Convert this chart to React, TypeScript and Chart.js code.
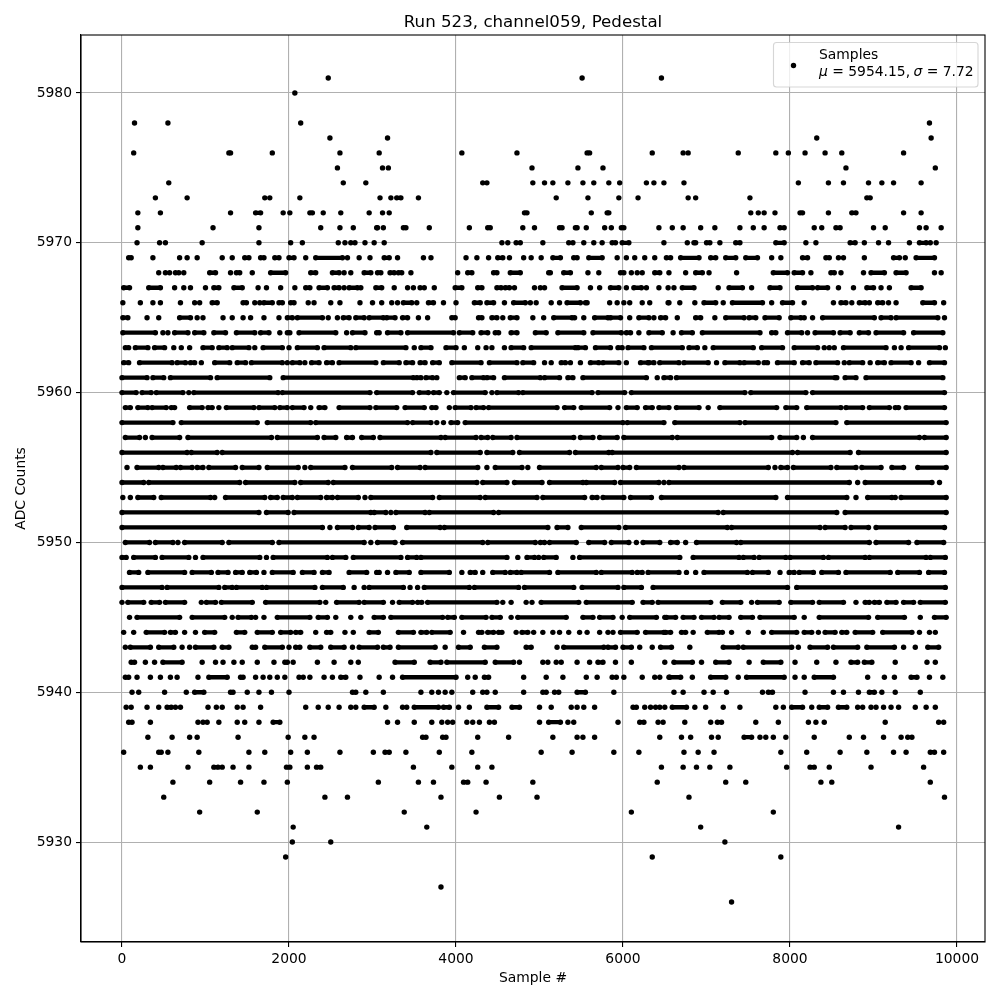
import React, { useEffect, useRef } from "react";
import { Chart, registerables } from "chart.js";

Chart.register(...registerables);

// Each entry is a sample position: a number is one isolated dot,
// a [start, end] pair is a stretch where the dots merge into a solid bar.
const level5981 = [2470, 5510, 6460];
const level5980 = [2070];
const level5978 = [150, 550, 2140, 9670];
const level5977 = [2490, 3180, 8320, 9690];
const level5976 = [140, [1280, 1300], 1800, 2610, 3080, 4070, 4730, [5570, 5600], 6350, 6720, 6780, 7380, 7830, 7980, 8180, 8420, 8620, 9360];
const level5975 = [2580, 3120, 3190, 4910, 5460, 5760, 8670, 9740];
const level5974 = [560, 2650, 2920, 4320, 4370, 4920, 5060, 5160, 5340, 5520, 5650, 5830, 5960, 6280, 6370, 6490, 6730, 8100, 8460, 8640, 8940, 9100, 9240, 9570];
const level5973 = [400, 780, 1710, 1770, 2130, 3090, 3220, [3290, 3340], 3550, 5200, 5580, 5950, 6180, 6780, 6870, 7520, [8920, 8960]];
const level5972 = [190, 460, 1300, [1600, 1660], 1930, 2010, [2250, 2280], 2410, 2620, 2960, 3120, 3200, [4820, 4850], 5620, [5810, 5830], 7530, 7620, 7690, 7820, [8120, 8150], 8460, [8740, 8790], 9360, 9570];
const level5971 = [190, 1090, 1640, 2380, 2610, 2770, 3060, 3050, 3130, [3370, 3400], 3680, 4160, [4380, 4410], 4800, 4940, [5240, 5270], [5430, 5450], 5560, 5780, 5860, [5980, 6010], 6430, 6590, 6720, 6930, 7100, 7400, 7560, 7690, [7880, 7930], 8290, 8380, [8550, 8600], 9000, 9140, 9550, 9630, 9810];
const level5970 = [180, 450, 520, 960, 1640, 2020, 2160, 2590, 2670, 2740, 2790, 2910, 3020, 3140, 4550, 4620, 4720, 4770, 5040, 5350, 5400, 5530, 5650, 5750, [5870, 5910], [5990, 6070], 6490, 6770, [6850, 6870], [7000, 7040], 7160, [7350, 7400], [7830, 7930], 8190, 8310, [8720, 8780], 8890, 9060, 9180, 9430, [9550, 9630], 9680, 9750];
const level5969 = [[80, 110], 370, 690, 780, 900, 1200, 1320, [1470, 1520], [1660, 1700], [1830, 1880], [2000, 2060], 2200, [2320, 2640], 2700, 2840, 2970, [3140, 3200], 3300, 3610, 3700, 4120, 4250, 4390, [4500, 4560], 4640, 4810, 4900, 5020, [5160, 5250], [5410, 5450], [5590, 5750], 5930, 6040, 6140, 6260, 6380, [6520, 6570], [6690, 6910], [7050, 7110], [7230, 7350], [7470, 7610], 7780, 7890, [8150, 8210], [8430, 8470], 8580, 8640, 8890, [9240, 9310], 9380, [9510, 9730]];
const level5968 = [440, 520, 570, 640, 680, 740, [1050, 1120], 1300, [1370, 1410], 1560, [1780, 1960], [2260, 2320], [2520, 2600], 2660, 2740, [2900, 2980], [3060, 3100], [3210, 3260], [3310, 3350], 3460, 4020, [4140, 4190], [4450, 4490], [4650, 4770], [5110, 5130], [5290, 5370], 5580, 5710, [5970, 6010], 6100, 6170, 6230, [6380, 6440], 6550, 6750, [6870, 6950], 7030, 7360, [7800, 7970], [8050, 8150], 8250, [8490, 8530], 8610, 8880, [8970, 9130], [9270, 9390], 9730, 9810];
const level5967 = [[20, 90], [320, 460], 630, 740, 820, 1000, [1100, 1160], [1340, 1440], 1630, 1730, 1900, 2070, [2200, 2250], [2360, 2460], [2540, 2600], 2660, [2720, 2820], 2860, [3040, 3110], 3260, 3420, 3490, 3570, 3620, 3740, [3990, 4070], [4260, 4310], [4490, 4540], [4590, 4640], 4700, 4940, 5010, 5060, [5270, 5450], 5610, 5720, [5850, 5950], 6040, [6130, 6220], 6280, 6430, 6540, 6610, [6710, 6850], 7140, [7270, 7430], 7540, [7760, 7880], [8090, 8270], [8330, 8450], 8580, 8760, [8920, 9000], 9090, 9190, [9450, 9570]];
const level5966 = [10, 220, 370, 460, 700, 870, 930, [1080, 1140], [1450, 1490], 1590, 1650, [1700, 1800], [1880, 1920], [2020, 2060], 2230, 2300, 2500, 2610, 2850, 3000, 3110, 3230, 3300, [3370, 3470], 3530, [3670, 3730], 3850, 4000, [4220, 4290], [4370, 4450], 4580, [4690, 4830], 4890, 4960, 5140, 5240, [5330, 5490], [5550, 5570], 5840, 5930, 6010, 6080, 6230, 6320, 6540, 6550, 6680, 6860, [6970, 7110], 7200, [7310, 7670], 7780, [7910, 8030], 8170, 8520, [8610, 8670], 8740, [8830, 8900], 8950, [9050, 9110], 9180, 9270, [9590, 9730], 9840];
const level5965 = [[10, 70], 300, 440, [690, 820], 900, 970, 1210, 1320, 1450, 1540, 1700, 1880, [1980, 2040], [2100, 2400], 2470, 2580, [2650, 2720], [2800, 2900], [2960, 3130], [3170, 3270], [3360, 3420], 3550, 3660, [3950, 3990], [4270, 4310], [4430, 4490], 4560, [4650, 4730], 4920, 5050, [5170, 5390], 5420, 5530, [5660, 5820], [5850, 5970], 6080, [6190, 6310], 6370, [6450, 6510], 6650, [6870, 6930], 7100, [7230, 7450], [7510, 7590], [7700, 7870], [8010, 8130], 8170, 8270, [8390, 9010], [9090, 9210], [9270, 9770], 9850];
const level5964 = [[10, 400], 490, 550, [630, 790], [870, 980], [1100, 1240], [1370, 1590], [1660, 1760], 1890, [1980, 2010], [2120, 2560], 2690, [2760, 2910], [3050, 3080], [3180, 3340], [3420, 3970], [4040, 4200], [4300, 4380], [4470, 4510], [4660, 4730], [4950, 5080], [5220, 5530], [5640, 5980], [6040, 6090], 6190, [6310, 6470], 6600, [6700, 6830], [6950, 7640], [7780, 7830], [7970, 8140], 8210, [8300, 8520], [8600, 8720], [8830, 8940], [9030, 9360], [9480, 9830]];
const level5963 = [[40, 80], [160, 310], [390, 510], 620, 710, 810, [970, 1080], [1160, 1260], [1320, 1520], 1590, [1690, 1920], 2000, [2100, 2340], [2420, 2740], [2800, 3400], 3500, [3580, 3700], [3880, 4000], 4100, 4260, 4360, 4430, 4580, [4660, 4810], [4900, 5430], [5460, 5550], [5670, 5850], [5940, 5990], [6060, 6250], [6340, 6710], [6790, 6890], 6980, [7080, 7560], [7660, 7910], [8050, 8330], 8410, 8470, 8530, [8640, 9150], 9250, 9330, [9420, 9790], 9860];
const level5962 = [[20, 80], [210, 600], [660, 760], [820, 870], 950, [1110, 1290], [1380, 1480], [1550, 1920], 1980, [2040, 2130], 2190, [2270, 2360], [2450, 2520], [2600, 3040], [3130, 3320], [3400, 3480], [3570, 3630], [3720, 3800], [3950, 4300], [4400, 4730], [4800, 4930], 5060, 5140, [5260, 5310], 5370, 5490, [5610, 5710], [5760, 5950], 6040, [6210, 6300], [6310, 6370], [6440, 6670], [6730, 7020], 7120, [7220, 7400], [7450, 7620], [7690, 7730], [7850, 8050], [8150, 8230], [8310, 8570], 8650, [8710, 8870], 8960, [9050, 9130], [9210, 9450], 9540, [9670, 9850]];
const level5961 = [[0, 300], [370, 500], [580, 1060], [1140, 1770], [1930, 3490], [3530, 3580], [3640, 3720], 3770, [4040, 4110], [4190, 4330], [4370, 4450], [4580, 5010], [5060, 5240], [5340, 5400], [5520, 6280], 6410, [6490, 6570], [6640, 8540], 8560, [8660, 8790], [8910, 9830]];
const level5960 = [[0, 170], [240, 350], [410, 730], 800, [860, 1870], [1920, 2970], [3050, 3480], [3560, 3670], [3730, 3800], 3890, [3970, 4350], 4430, [4490, 4750], [4800, 5630], [5700, 6020], [6100, 7460], [7530, 8190], [8270, 9850]];
const level5959 = [[40, 100], [190, 310], [360, 530], [590, 630], [810, 960], [1030, 1080], 1160, [1250, 1580], [1640, 1830], [1890, 1980], [2040, 2180], 2260, [2360, 2430], [2600, 2970], [3040, 3290], [3390, 3620], [3710, 3760], 3920, [3990, 4180], [4240, 4330], [4390, 5210], [5300, 5410], [5500, 5840], 5940, [6040, 6170], [6270, 6350], [6430, 6550], [6640, 6910], 7020, [7160, 7840], [7950, 8080], [8200, 8610], [8670, 8870], [8950, 9190], [9260, 9300], [9390, 9850]];
const level5958 = [[0, 610], [710, 1620], [1740, 2260], [2320, 3420], [3480, 3700], 3770, 3850, [3940, 4020], [4110, 6000], [6050, 6490], [6620, 7400], [7460, 8550], [8680, 9870]];
const level5957 = [[40, 210], 280, [360, 690], [790, 1790], [1860, 2340], [2420, 2560], [2690, 2760], [2870, 3010], [3090, 3820], [3870, 4240], [4300, 4380], [4440, 4660], [4730, 5410], [5490, 5640], [5720, 5930], [6010, 6590], [6650, 7780], [7880, 8080], 8160, [8270, 9550], [9610, 9870]];
const level5956 = [[0, 780], [830, 1140], [1200, 3700], [3770, 4290], [4370, 4680], [4760, 5360], [5430, 5830], [5870, 8030], [8090, 8720], [8820, 9870]];
const level5955 = [60, [180, 440], [490, 650], [700, 840], [900, 970], [1040, 1360], [1440, 1640], [1740, 2110], 2190, [2260, 2670], [2760, 3230], [3300, 3570], [3630, 4260], 4370, [4470, 4790], 4860, [5000, 5680], [5740, 5940], [6000, 6080], [6160, 6670], [6730, 7740], 7820, [7890, 7970], [8040, 8490], [8560, 8790], [8860, 9090], [9220, 9360], [9530, 9870]];
const level5954 = [[0, 260], [320, 1410], [1480, 2070], [2140, 2470], [2530, 4250], [4320, 4610], [4700, 5030], [5120, 5520], [5560, 5900], [5970, 6430], 6490, [6550, 8710], 8810, [8900, 9700], 9790];
const level5953 = [10, 100, [190, 380], [470, 1060], 1110, [1240, 1710], [1780, 1860], [1930, 2040], [2100, 2380], [2450, 2520], [2580, 2830], 2910, [2980, 3720], [3800, 4290], [4350, 4970], [5040, 5540], [5630, 5690], [5760, 6010], [6090, 6340], [6460, 7830], [7970, 8680], 8790, [8930, 9220], 9260, [9330, 9870]];
const level5952 = [[0, 1640], [1730, 1990], [2060, 2980], [3020, 3160], 3220, [3280, 3630], [3680, 4450], [4510, 7140], [7200, 8560], [8660, 9870]];
const level5951 = [[0, 2400], 2490, [2580, 2760], [2830, 2960], [3030, 3250], [3410, 3810], [3860, 5100], [5210, 5340], [5500, 5950], [6030, 7250], [7300, 8360], [8420, 8660], [8730, 8940], [9030, 9850]];
const level5950 = [[40, 330], [400, 610], 670, [750, 1200], [1280, 1800], [1880, 2900], 2980, [3060, 3270], [3360, 4320], [4380, 4950], [5010, 5060], [5120, 5440], [5590, 5780], [5860, 6070], 6160, [6240, 6440], [6570, 6650], 6750, [6880, 7360], [7410, 8950], [9030, 9420], [9520, 9840]];
const level5949 = [[0, 50], [140, 400], [480, 800], 880, [970, 1650], 1730, [1810, 2460], [2520, 2680], [2770, 3340], [3420, 3530], [3580, 4610], 4740, [4850, 4940], 4990, [5050, 5200], 5400, [5480, 6680], [6840, 7390], [7440, 7570], [7630, 7950], [8000, 8400], [8460, 8900], [8950, 9630], [9680, 9860]];
const level5948 = [[90, 200], [310, 750], [840, 1070], [1150, 1270], [1360, 1440], [1530, 1610], 1700, [1800, 2050], [2160, 2300], [2400, 2480], [2720, 2930], [3050, 3080], 3180, [3280, 3440], [3580, 3920], 4070, [4170, 4230], 4320, [4440, 4590], [4650, 4730], [4780, 5120], [5220, 5680], [5740, 6110], [6170, 6230], [6300, 6670], 6760, 6870, [6970, 7490], [7550, 7740], 7880, [7990, 8050], [8110, 8280], [8380, 8580], [8670, 9200], [9290, 9550], [9660, 9850]];
const level5947 = [[0, 480], [540, 1160], [1230, 1320], [1370, 1680], [1730, 2310], [2400, 2650], 2780, 2900, [2960, 3370], 3450, 3540, [3620, 4160], [4220, 4750], [4820, 5410], [5510, 5940], [6010, 6220], [6360, 7970], [8080, 9860]];
const level5946 = [0, [70, 260], [350, 450], [520, 750], 950, [1010, 1120], [1190, 1560], [1720, 2370], 2440, [2570, 2840], [2900, 3130], 3240, [3320, 3480], [3540, 3590], [3660, 4490], 4560, 4660, 4840, 4910, [5020, 5470], [5560, 6110], [6240, 6350], [6420, 7050], [7190, 7410], 7540, [7610, 7870], [8010, 8270], [8350, 8640], 8790, [8900, 8950], [9010, 9070], [9160, 9270], [9360, 9480], [9560, 9860]];
const level5945 = [90, [180, 690], [840, 1230], 1320, [1390, 1550], 1600, 1700, [1860, 2250], [2350, 2460], 2560, 2740, 2860, [3020, 3130], [3220, 3840], [3900, 3980], [4070, 4360], [4430, 4530], 4660, [4740, 5320], [5520, 5640], [5720, 5880], 5990, [6080, 6400], 6520, [6500, 6630], [6720, 6850], [6940, 7090], [7150, 7270], [7410, 7550], [7640, 8050], 8170, [8350, 8940], [9050, 9370], 9560, [9730, 9870]];
const level5944 = [20, 140, [290, 510], [580, 640], 750, 880, [990, 1110], [1370, 1470], [1620, 1800], [1900, 2020], [2080, 2140], 2320, [2450, 2500], 2670, 2770, [2960, 3070], [3310, 3490], [3580, 3650], [3710, 3930], 4090, [4270, 4310], [4380, 4450], [4510, 4550], 4720, [4790, 4860], 4930, 5040, 5160, 5240, 5350, 5480, 5570, 5720, 5820, 5880, [5970, 6170], [6270, 6510], [6490, 6570], [6700, 6750], 6840, [7010, 7150], 7190, 7300, 7500, 7680, [7780, 8080], [8170, 8260], 8340, [8420, 8540], [8620, 8680], [8780, 8990], [9110, 9460], 9550, 9670, 9740];
const level5943 = [40, [100, 340], [440, 620], 720, 810, [880, 1100], [1200, 1280], [1560, 1600], [1710, 1920], 2000, [2080, 2130], [2250, 2380], [2500, 2660], 2760, [2840, 3060], [3130, 3210], [3310, 3750], 3870, [4030, 4170], [4340, 4490], [4840, 4900], 5210, [5290, 5770], [5820, 5910], [6000, 6100], 6200, 6350, [6450, 6580], 6800, [7200, 7380], [7440, 8020], 8100, [8240, 8450], [8520, 8810], [8920, 9250], 9360, 9500, [9650, 9780]];
const level5942 = [[110, 150], 280, 390, [490, 720], 960, 1120, 1210, 1340, 1440, 1620, 1820, [1950, 1980], 2050, 2340, 2540, 2740, 2830, [3270, 3500], [3690, 3820], [3890, 4350], [4470, 4690], 4760, 5040, 5100, 5200, 5260, 5450, 5600, [5700, 5760], 5910, 6100, 6500, [6610, 6830], 6940, [7110, 7270], 7510, [7680, 7890], 8060, 8320, 8550, [8730, 8810], [8890, 8980], 9260, 9640, 9740];
const level5941 = [[40, 80], 180, 340, 460, 580, 660, 910, [1040, 1260], [1420, 1450], 1600, 1690, 1770, 1860, 1950, 2120, 2170, 2250, 2420, 2520, [2620, 2680], 2850, 3080, 3240, [3360, 4000], 4140, 4230, [4340, 4390], 4810, 5080, 5280, 5560, 5690, 5870, 5920, 6010, 6230, 6380, 6440, 6550, [6560, 6690], 6830, [7050, 7230], 7380, [7480, 7930], 8060, 8170, [8290, 8520], 8930, 9130, 9250, [9450, 9520], 9670, 9830];
const level5940 = [120, 200, 510, 770, [870, 980], [1300, 1330], 1500, 1640, 1790, 2000, [2760, 2800], 2920, 3130, 3580, 3710, 3790, 3870, 3950, 4200, 4320, 4370, 4470, 4810, 5040, 5080, 5180, 5230, [5450, 5550], 5890, 6610, 6720, 6970, 7080, 7240, 7670, [7740, 7790], 8180, 8520, 8640, 8820, [8950, 9010], 9100, 9260, 9560];
const level5939 = [50, 110, 300, 440, [540, 590], 640, 700, 1030, 1130, 1200, 1380, 1450, 1660, 2200, 2350, 2470, 2600, 2740, 2800, [2900, 3020], 3160, 3360, 3410, [3500, 3790], [3850, 3920], 4030, 4160, [4370, 4510], [4670, 4760], 5000, 5140, 5380, 5450, 5530, 5660, [6120, 6160], 6260, 6330, 6390, 6440, 6500, [6590, 6760], 6860, 6990, 7200, 7400, 7830, 7920, [8020, 8150], 8260, [8350, 8450], [8580, 8680], 8810, 8870, 8970, 9030, 9120, 9210, 9300, 9500, 9630, 9740];
const level5938 = [[80, 120], 340, 910, 970, 1020, 1160, 1380, 1470, 1640, [1810, 1890], 3180, 3300, 3500, 3710, 3830, 3900, 3960, 4130, 4200, 4280, 4400, 4460, 5000, [5110, 5250], 5340, 5410, 5940, [6200, 6250], 6420, 6480, 6740, 7050, [7130, 7180], 7590, 7860, 8220, 8310, 8410, 9140, 9780, 9840];
const level5937 = [310, 600, 810, 900, 1390, 1990, 2190, 2300, [3600, 3640], [3840, 3880], 4260, 4630, 5160, 5450, 5520, 5660, 6440, 6700, 6810, 7060, 7140, [7450, 7540], 7640, 7710, 7800, 7950, 8290, 8710, 8880, 9120, 9330, 9410, 9460];
const level5936 = [20, [440, 470], 550, 920, 1520, 1710, 2020, 2220, 2610, 3010, [3150, 3200], 3400, 3800, 4190, 5020, 5390, 5890, 6190, 6730, 6900, 7090, 7890, 8200, 8600, 8920, 9240, 9390, [9680, 9730], 9840];
const level5935 = [220, 340, 790, [1100, 1150], 1200, 1330, 1520, [1970, 2010], 2220, [2330, 2380], 3490, 3950, 4260, 4430, 6460, 6720, 6880, 7040, 7280, 7960, [8240, 8290], 8470, 8970, 9600];
const level5934 = [610, 1050, 1420, 1700, 1980, 3070, 3550, 3730, [4090, 4140], 4360, 4920, 6410, 7230, 7470, 8370, 8500, 9680];
const level5933 = [500, 2430, 2700, 3820, 4520, 4970, 6790, 9850];
const level5932 = [930, 1620, 3380, 4240, 6100, 7800];
const level5931 = [2050, 3650, 6930, 9300];
const level5930 = [2040, 2500, 7220];
const level5929 = [1960, 6350, 7890];
const level5927 = [3820];
const level5926 = [7300];

const levelValues = [5981, 5980, 5978, 5977, 5976, 5975, 5974, 5973, 5972, 5971, 5970, 5969, 5968, 5967, 5966, 5965, 5964, 5963, 5962, 5961, 5960, 5959, 5958, 5957, 5956, 5955, 5954, 5953, 5952, 5951, 5950, 5949, 5948, 5947, 5946, 5945, 5944, 5943, 5942, 5941, 5940, 5939, 5938, 5937, 5936, 5935, 5934, 5933, 5932, 5931, 5930, 5929, 5927, 5926];
const levelRows: (number | number[])[][] = [level5981, level5980, level5978, level5977, level5976, level5975, level5974, level5973, level5972, level5971, level5970, level5969, level5968, level5967, level5966, level5965, level5964, level5963, level5962, level5961, level5960, level5959, level5958, level5957, level5956, level5955, level5954, level5953, level5952, level5951, level5950, level5949, level5948, level5947, level5946, level5945, level5944, level5943, level5942, level5941, level5940, level5939, level5938, level5937, level5936, level5935, level5934, level5933, level5932, level5931, level5930, level5929, level5927, level5926];

const xTicks = [0, 2000, 4000, 6000, 8000, 10000];
const yTicks = [5930, 5940, 5950, 5960, 5970, 5980];
const chartTitle = "Run 523, channel059, Pedestal";
const xTitle = "Sample #";
const yTitle = "ADC Counts";
const legendName = "Samples";
const legendMu = "5954.15";
const legendSigma = "7.72";

const FONT = '"DejaVu Sans"';

const frameAndLegend = {
  id: "frameAndLegend",
  afterDatasetsDraw(chart: any) {
    const { ctx, chartArea: a } = chart;
    ctx.save();
    ctx.strokeStyle = "#000";
    ctx.lineWidth = 1.1;
    ctx.strokeRect(a.left, a.top, a.right - a.left, a.bottom - a.top);

    const bx = 773.5, by = 42.5, bw = 204.5, bh = 44.5, r = 3;
    ctx.beginPath();
    ctx.roundRect(bx, by, bw, bh, r);
    ctx.fillStyle = "rgba(255,255,255,0.8)";
    ctx.fill();
    ctx.strokeStyle = "rgba(204,204,204,0.8)";
    ctx.lineWidth = 1.1;
    ctx.stroke();

    ctx.fillStyle = "#000";
    ctx.beginPath();
    ctx.arc(793.5, 65.5, 2.7, 0, Math.PI * 2);
    ctx.fill();

    ctx.textBaseline = "alphabetic";
    ctx.textAlign = "left";
    const upright = `13.89px ${FONT}`;
    const oblique = `oblique 13.89px ${FONT}`;
    ctx.font = upright;
    ctx.fillText(legendName, 819, 59);
    const parts: [string, string, number][] = [
      ["μ", oblique, 0],
      [` = ${legendMu}, `, upright, -1],
      ["σ", oblique, 0],
      [` = ${legendSigma}`, upright, -1],
    ];
    let x = 819;
    for (const [text, font, nudge] of parts) {
      ctx.font = font;
      ctx.fillText(text, x, 76);
      x += ctx.measureText(text).width + nudge;
    }
    ctx.restore();
  },
};

export default function App() {
  const ref = useRef<HTMLCanvasElement>(null);
  useEffect(() => {
    const datasets = levelRows.map((row, i) => {
      const y = levelValues[i];
      const data: any[] = [];
      for (const item of row) {
        if (Array.isArray(item)) {
          data.push({ x: item[0], y }, { x: item[1], y });
        } else {
          data.push({ x: item, y });
        }
        data.push({ x: null, y: null });
      }
      return {
        label: String(y),
        data,
        borderColor: "#000",
        backgroundColor: "#000",
        borderWidth: 4.3,
        borderCapStyle: "butt" as const,
        pointRadius: 2.7,
        pointBorderWidth: 0,
        pointBackgroundColor: "#000",
        spanGaps: false,
        tension: 0,
      };
    });
    const chart = new Chart(ref.current!, {
      type: "line",
      data: { datasets },
      plugins: [frameAndLegend],
      options: {
        animation: false,
        responsive: false,
        devicePixelRatio: 1,
        layout: { padding: { top: 0, right: 15, bottom: 0, left: 0 } },
        plugins: {
          legend: { display: false },
          tooltip: { enabled: false },
          title: {
            display: true,
            text: chartTitle,
            color: "#000",
            fullSize: false,
            font: { family: FONT, size: 16.67, weight: "normal", lineHeight: 1.2 },
            padding: { top: 13, bottom: 2 },
          },
        },
        scales: {
          x: {
            type: "linear",
            min: -491,
            max: 10335,
            afterFit: (s: any) => { s.height = 58; },
            afterBuildTicks: (s: any) => { s.ticks = xTicks.map((value) => ({ value })); },
            grid: { color: "#b0b0b0", lineWidth: 1.1, tickColor: "#000", tickLength: 5, tickWidth: 1.1 },
            border: { color: "#000", width: 1.1 },
            ticks: {
              color: "#000",
              maxRotation: 0,
              autoSkip: false,
              padding: 4,
              font: { family: FONT, size: 13.89 },
              callback: (v: any) => String(v),
            },
            title: {
              display: true,
              text: xTitle,
              color: "#000",
              font: { family: FONT, size: 13.89 },
              padding: { top: 0, bottom: 13 },
            },
          },
          y: {
            type: "linear",
            min: 5923.33,
            max: 5983.87,
            afterFit: (s: any) => { s.width = 81; },
            afterBuildTicks: (s: any) => { s.ticks = yTicks.map((value) => ({ value })); },
            grid: { color: "#b0b0b0", lineWidth: 1.1, tickColor: "#000", tickLength: 5, tickWidth: 1.1 },
            border: { color: "#000", width: 1.1 },
            ticks: {
              color: "#000",
              autoSkip: false,
              padding: 4,
              font: { family: FONT, size: 13.89 },
              callback: (v: any) => String(v),
            },
            title: {
              display: true,
              text: yTitle,
              color: "#000",
              font: { family: FONT, size: 13.89 },
              padding: { top: 13, bottom: 0 },
            },
          },
        },
      },
    });
    return () => chart.destroy();
  }, []);
  return (
    <div style={{ position: "absolute", left: 0, top: 0, width: 1000, height: 1000 }}>
      <canvas ref={ref} width={1000} height={1000} style={{ display: "block" }} />
    </div>
  );
}
